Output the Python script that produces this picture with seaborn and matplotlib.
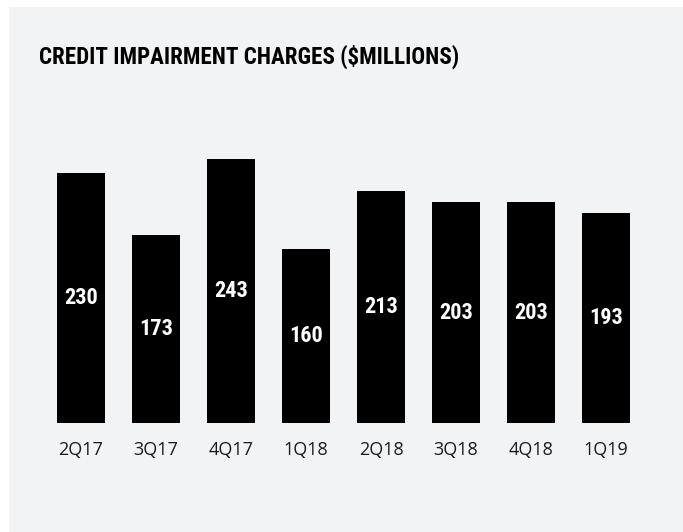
import matplotlib
matplotlib.use("Agg")
import matplotlib.pyplot as plt
from matplotlib import font_manager
import seaborn as sns
import pandas as pd

quarters = ["2Q17", "3Q17", "4Q17", "1Q18", "2Q18", "3Q18", "4Q18", "1Q19"]
charges = [230, 173, 243, 160, 213, 203, 203, 193]
title_text = "CREDIT IMPAIRMENT CHARGES ($MILLIONS)"

W, H = 683, 532
BG = "#f2f3f5"

sns.set_theme(style="white")
plt.rcParams["font.family"] = ["Open Sans", "DejaVu Sans"]

names = {f.name for f in font_manager.fontManager.ttflist}
narrow = "DejaVu Sans"
for cand in ["Liberation Sans Narrow", "Roboto Condensed", "Open Sans Condensed",
             "DejaVu Sans Condensed", "Noto Sans Condensed"]:
    if cand in names:
        narrow = cand
        break

fig = plt.figure(figsize=(W / 100, H / 100), dpi=100, facecolor="white")
# gray panel
panel = plt.Rectangle((9 / W, 0), 1 - 9 / W, (H - 7) / H,
                      transform=fig.transFigure, facecolor=BG,
                      edgecolor="none", zorder=-10)
fig.add_artist(panel)

ymax = 250
px_per = 1.087
ax_left = 43.5
ax_w = 600
base = 423
ax_top = base - ymax * px_per
ax = fig.add_axes([ax_left / W, (H - base) / H, ax_w / W, (base - ax_top) / H])
ax.set_facecolor(BG)
ax.patch.set_alpha(0)

df = pd.DataFrame({"quarter": quarters, "charge": charges})
sns.barplot(data=df, x="quarter", y="charge", color="black", saturation=1,
            width=0.64, ax=ax, edgecolor="none")
ax.set_xlim(-0.5, len(quarters) - 0.5)
ax.set_ylim(0, ymax)
for s in ax.spines.values():
    s.set_visible(False)
ax.set_yticks([])
ax.set_xlabel("")
ax.set_ylabel("")
ax.tick_params(axis="x", length=0, pad=13, labelsize=13, labelcolor="#1a1a1a")

ax.bar_label(ax.containers[0], labels=[str(v) for v in charges], label_type="center",
             color="white", fontsize=16, fontweight="bold", family=narrow,
             fontstretch="condensed")

t = fig.text(39 / W, (H - 64) / H, title_text, ha="left", va="baseline",
             fontsize=26, fontweight="bold", family=narrow, color="black",
             fontstretch="condensed")
fig.canvas.draw()
r = fig.canvas.get_renderer()
w = t.get_window_extent(r).width
t.set_fontsize(26 * 420 / w)

fig.savefig("out.png", dpi=100, facecolor="white")
